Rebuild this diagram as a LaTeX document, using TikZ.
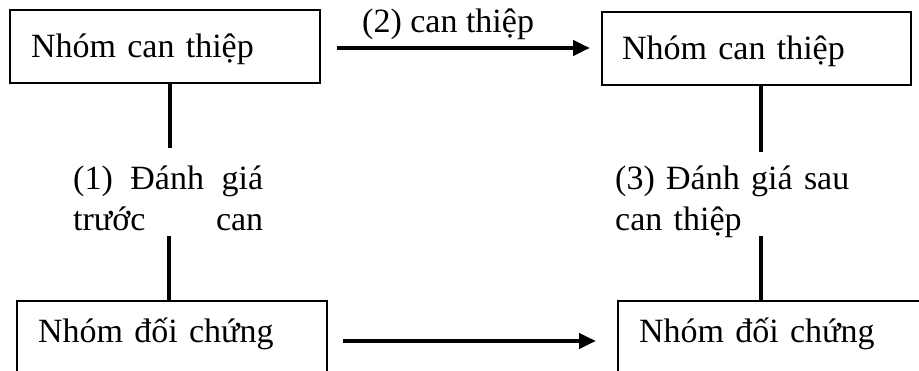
\documentclass[tikz,border=0pt]{standalone}
\usepackage{fontspec}
\setmainfont{Liberation Serif}
\usetikzlibrary{arrows.meta}
\begin{document}
\begin{tikzpicture}[x=1pt, y=-1pt, font=\fontsize{34}{41}\selectfont, line join=miter,
	box/.style={draw, line width=1.2pt, inner ysep=0pt, outer sep=0pt, anchor=north west, align=left},
	link/.style={line width=4.2pt},
	flow/.style={line width=4.2pt, -{Triangle[length=17pt,width=15pt]}},
	note/.style={anchor=base west, inner sep=0pt, align=left}]
	\useasboundingbox (0,0) rectangle (919,371);
	% bon nhom
	\node[box, inner xsep=21pt, text width=268pt, text height=48pt, text depth=25pt] (tl) at (10,10) {Nhóm can thiệp};
	\node[box, inner xsep=20pt, text width=269pt, text height=48pt, text depth=25pt] (tr) at (602,12) {Nhóm can thiệp};
	\node[box, inner xsep=21pt, text width=268pt, text height=42pt, text depth=40pt] (bl) at (17,301) {Nhóm đối chứng};
	\node[box, inner xsep=21pt, text width=270pt, text height=42pt, text depth=40pt] (br) at (618,301) {Nhóm đối chứng};
	% nhan
	\node[note] (lbl2) at (362,33) {(2) can thiệp};
	\node[note, text width=190pt] (lbl1) at (73,190) {(1)\hfill Đánh\hfill giá\\trước\hfill can};
	\node[note, text width=240pt] (lbl3) at (615,190) {(3) Đánh giá sau\\can thiệp};
	\path (170,148) coordinate (a1) (169,236) coordinate (a2)
		(761,152) coordinate (b1) (761,236) coordinate (b2);
	% duong noi
	\draw[link] (tl.south -| a1)--(a1) (a2)--(a2 |- bl.north);
	\draw[link] (tr.south -| b1)--(b1) (b2)--(b2 |- br.north);
	\draw[flow, shorten <=17pt, shorten >=12pt] ([yshift=-1.5pt]tl.east)--([yshift=-1.5pt]tl.east -| tr.west);
	\draw[flow, shorten <=16pt, shorten >=22pt] ([yshift=-40pt]bl.north east)--([yshift=-40pt]bl.north east -| br.west);
\end{tikzpicture}
\end{document}
